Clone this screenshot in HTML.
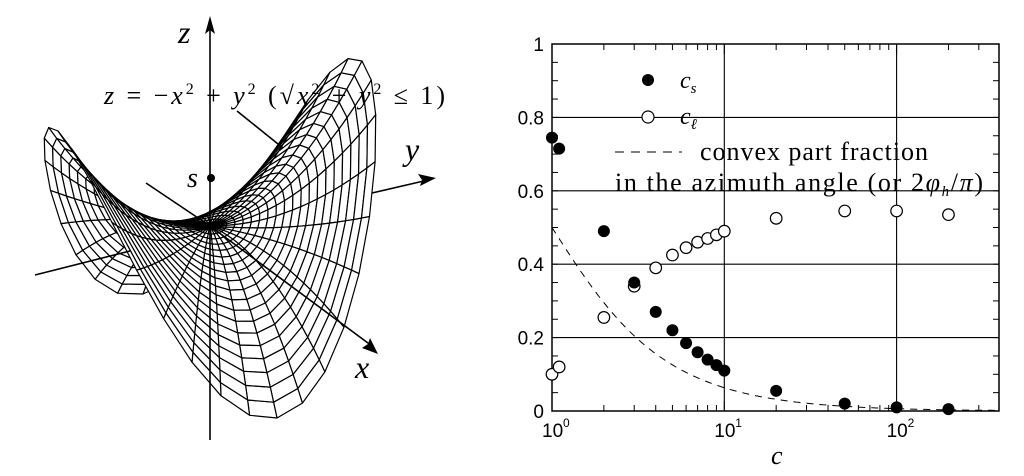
<!DOCTYPE html>
<html><head><meta charset="utf-8">
<style>
html,body{margin:0;padding:0;background:#fff;}
svg{display:block;}
.ser{font-family:"Liberation Serif",serif;}
.san{font-family:"Liberation Sans",sans-serif;}
</style></head>
<body>
<svg id="s" width="1024" height="476" viewBox="0 0 1024 476" xmlns="http://www.w3.org/2000/svg">
<g id="surf"></g>
<g id="axes3" stroke="#000" stroke-width="1.6" fill="none">
<line x1="210" y1="440" x2="210" y2="26"/>
<line x1="146" y1="183" x2="210" y2="226"/>
<line x1="210" y1="226" x2="372" y2="346"/>
<line x1="35" y1="275" x2="130" y2="251"/>
<line x1="372" y1="193" x2="428" y2="180"/>
<line x1="237" y1="111" x2="283" y2="148"/>
</g>
<polygon points="210,16 205,34 210,30 215,34" fill="#000"/>
<polygon points="436,178 418,174 422,180 420,186" fill="#000"/>
<polygon points="378,354 362,348 368,344 370,338" fill="#000"/>
<circle cx="211" cy="178" r="4" fill="#000"/>
<text class="ser" x="178" y="43" font-size="32" font-style="italic">z</text>
<text class="ser" x="405" y="160" font-size="32" font-style="italic">y</text>
<text class="ser" x="355" y="378" font-size="32" font-style="italic">x</text>
<text class="ser" x="187" y="187" font-size="28" font-style="italic">s</text>
<text class="ser" x="104" y="104" font-size="26" textLength="341" lengthAdjust="spacing"><tspan font-style="italic">z</tspan> = −<tspan font-style="italic">x</tspan><tspan dy="-10" font-size="16">2</tspan><tspan dy="10"> + </tspan><tspan font-style="italic">y</tspan><tspan dy="-10" font-size="16">2</tspan><tspan dy="10"> (√</tspan><tspan font-style="italic">x</tspan><tspan dy="-10" font-size="16">2</tspan><tspan dy="10"> + </tspan><tspan font-style="italic">y</tspan><tspan dy="-10" font-size="16">2</tspan><tspan dy="10"> ≤ 1)</tspan></text>
<g id="plot"></g>
</svg>
<script>
(function(){
var NS="http://www.w3.org/2000/svg";
function el(p,t,a){var e=document.createElementNS(NS,t);for(var k in a)e.setAttribute(k,a[k]);p.appendChild(e);return e;}
var O=[210,226],ex=[67,62],ey=[152,-35],ez=[0,-130];
var dv=[19760,-8710,11769];
function P(x,y){var z=-x*x+y*y;return [O[0]+x*ex[0]+y*ey[0]+z*ez[0],O[1]+x*ex[1]+y*ey[1]+z*ez[1],x*dv[0]+y*dv[1]+z*dv[2]];}
var NR=20,NT=36,quads=[];
for(var i=0;i<NR;i++)for(var j=0;j<NT;j++){
 var r0=i/NR,r1=(i+1)/NR,t0=j/NT*2*Math.PI,t1=(j+1)/NT*2*Math.PI;
 var pts=[P(r0*Math.cos(t0),r0*Math.sin(t0)),P(r1*Math.cos(t0),r1*Math.sin(t0)),P(r1*Math.cos(t1),r1*Math.sin(t1)),P(r0*Math.cos(t1),r0*Math.sin(t1))];
 var d=(pts[0][2]+pts[1][2]+pts[2][2]+pts[3][2])/4;quads.push([d,pts]);}
quads.sort(function(a,b){return a[0]-b[0];});
var g=document.getElementById("surf");
quads.forEach(function(q){el(g,"polygon",{points:q[1].map(function(p){return p[0].toFixed(1)+","+p[1].toFixed(1);}).join(" "),fill:"#fff",stroke:"#000","stroke-width":"1.2","stroke-linejoin":"round"});});
var pg=document.getElementById("plot");
var L=552,R=999,T=44,B=411,dec=172.3;
function X(c){return L+Math.log10(c)*dec;}function Y(v){return B-v*(B-T);}
el(pg,"rect",{x:L,y:T,width:R-L,height:B-T,fill:"none",stroke:"#000","stroke-width":"1.5"});
[0.2,0.4,0.6,0.8].forEach(function(v){el(pg,"line",{x1:L,x2:R,y1:Y(v),y2:Y(v),stroke:"#000","stroke-width":"1.1"});});
[10,100].forEach(function(c){el(pg,"line",{x1:X(c),x2:X(c),y1:T,y2:B,stroke:"#000","stroke-width":"1.1"});});
for(var v=0.05;v<1;v+=0.05){el(pg,"line",{x1:L,x2:L+6,y1:Y(v),y2:Y(v),stroke:"#000"});el(pg,"line",{x1:R-6,x2:R,y1:Y(v),y2:Y(v),stroke:"#000"});}
for(var e=0;e<3;e++)for(var k=1;k<10;k++){var c=k*Math.pow(10,e);var x=X(c);if(x>R)continue;var len=(k==1)?10:6;el(pg,"line",{x1:x,x2:x,y1:B-len,y2:B,stroke:"#000"});el(pg,"line",{x1:x,x2:x,y1:T,y2:T+len,stroke:"#000"});}
var yl=[["0",0],["0.2",0.2],["0.4",0.4],["0.6",0.6],["0.8",0.8],["1",1]];
yl.forEach(function(a){var t=el(pg,"text",{x:L-8,y:Y(a[1])+7,"text-anchor":"end","font-size":"19",class:"san"});t.textContent=a[0];});
[[0,L],[1,X(10)],[2,X(100)]].forEach(function(a){var t=el(pg,"text",{x:a[1]-10,y:B+26,"font-size":"19",class:"san"});t.textContent="10";var s=el(pg,"text",{x:a[1]+11,y:B+16,"font-size":"12",class:"san"});s.textContent=a[0];});
var d="";for(var i=0;i<=200;i++){var lc=i/200*2.6,c=Math.pow(10,lc),f=2/Math.PI*Math.atan(1/c);d+=(i?"L":"M")+X(c).toFixed(1)+","+Y(f).toFixed(1);}
el(pg,"path",{d:d,fill:"none",stroke:"#000","stroke-width":"1","stroke-dasharray":"7,6"});
var cs=[[1,.745],[1.1,.715],[2,.49],[3,.35],[4,.27],[5,.22],[6,.185],[7,.16],[8,.14],[9,.125],[10,.11],[20,.055],[50,.02],[100,.01],[200,.005]];
var cl=[[1,.10],[1.1,.12],[2,.255],[3,.34],[4,.39],[5,.425],[6,.445],[7,.46],[8,.47],[9,.48],[10,.49],[20,.525],[50,.545],[100,.545],[200,.535]];
cl.forEach(function(p){el(pg,"circle",{cx:X(p[0]),cy:Y(p[1]),r:5.8,fill:"#fff",stroke:"#000","stroke-width":"1.2"});});
cs.forEach(function(p){el(pg,"circle",{cx:X(p[0]),cy:Y(p[1]),r:6,fill:"#000"});});
el(pg,"circle",{cx:648,cy:80,r:6,fill:"#000"});
el(pg,"circle",{cx:648,cy:117,r:6,fill:"#fff",stroke:"#000","stroke-width":"1.2"});
el(pg,"line",{x1:615,x2:682,y1:152,y2:152,stroke:"#000","stroke-dasharray":"9,7"});
})();
</script>
<svg style="position:absolute;left:0;top:0" width="1024" height="476">
<text class="ser" x="680" y="88" font-size="24" font-style="italic">c<tspan font-size="15" dy="5">s</tspan></text>
<text class="ser" x="680" y="124" font-size="24" font-style="italic">c<tspan font-size="15" dy="5">ℓ</tspan></text>
<text class="ser" x="700" y="160" font-size="26" textLength="228" lengthAdjust="spacing">convex part fraction</text>
<text class="ser" x="615" y="191" font-size="26" textLength="368" lengthAdjust="spacing">in the azimuth angle (or 2<tspan font-style="italic">φ</tspan><tspan font-size="15" dy="5" font-style="italic">h</tspan><tspan dy="-5">/</tspan><tspan font-style="italic">π</tspan>)</text>
<text class="ser" x="771" y="464" font-size="26" font-style="italic">c</text>
</svg>
</body></html>
